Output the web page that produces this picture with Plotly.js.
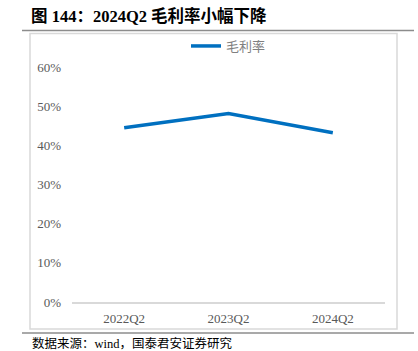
<!DOCTYPE html>
<html>
<head>
<meta charset="utf-8">
<script src="https://cdn.plot.ly/plotly-3.0.1.min.js"></script>
<style>html,body{margin:0;padding:0;background:#fff;}#chart{width:418px;height:351px;}</style>
</head>
<body>
<div id="chart"></div>
<script>
const categories = ["2022Q2", "2023Q2", "2024Q2"];
const grossMargin = [0.445, 0.481, 0.432];
const seriesName = "毛利率";
const yTickVals = [0, 0.1, 0.2, 0.3, 0.4, 0.5, 0.6];
const yTickText = ["0%", "10%", "20%", "30%", "40%", "50%", "60%"];
const chartTitle = "图 144：2024Q2 毛利率小幅下降";
const sourceText = "数据来源：wind，国泰君安证券研究";

const W = 418, H = 351;
const M = {l: 72, r: 33, t: 67, b: 49};
const PW = W - M.l - M.r, PH = H - M.t - M.b;
const px = x => (x - M.l) / PW;
const py = y => (H - M.b - y) / PH;

const serif = "'Times New Roman', 'Liberation Serif', 'Noto Sans CJK SC', serif";

const trace = {
  x: categories,
  y: grossMargin,
  name: seriesName,
  type: "scatter",
  mode: "lines",
  line: {color: "#0070C0", width: 3.5},
  showlegend: true
};

const layout = {
  width: W, height: H,
  margin: M,
  paper_bgcolor: "#ffffff",
  plot_bgcolor: "#ffffff",
  title: {
    text: "<b>" + chartTitle + "</b>",
    x: 31 / W, xanchor: "left", xref: "container",
    y: 1 - 16 / H, yanchor: "middle", yref: "container",
    font: {family: serif, size: 16.5, color: "#000000"}
  },
  xaxis: {
    type: "category",
    range: [-0.5, 2.5],
    showgrid: false,
    zeroline: false,
    showline: true,
    linecolor: "#d9d9d9",
    linewidth: 1.5,
    ticks: "",
    ticklabelstandoff: 4,
    tickfont: {family: serif, size: 13, color: "#595959"},
    fixedrange: true
  },
  yaxis: {
    range: [0, 0.6],
    tickvals: yTickVals,
    ticktext: yTickText,
    showgrid: false,
    zeroline: false,
    showline: false,
    ticks: "",
    ticklabelstandoff: 10,
    tickfont: {family: serif, size: 13, color: "#595959"},
    fixedrange: true
  },
  legend: {
    orientation: "h",
    x: 0.5, xanchor: "center",
    y: py(46), yanchor: "middle",
    font: {family: serif, size: 13, color: "#7f7f7f"},
    bgcolor: "rgba(0,0,0,0)"
  },
  shapes: [
    {type: "line", xref: "paper", yref: "paper", x0: px(22), x1: px(414), y0: py(30.5), y1: py(30.5), line: {color: "#8c8c8c", width: 1.5}},
    {type: "rect", xref: "paper", yref: "paper", x0: px(30), x1: px(397), y0: py(33.5), y1: py(329), line: {color: "#d9d9d9", width: 1.5}},
    {type: "line", xref: "paper", yref: "paper", x0: px(22), x1: px(414), y0: py(333), y1: py(333), line: {color: "#8c8c8c", width: 1.5}}
  ],
  annotations: [
    {text: sourceText, xref: "paper", yref: "paper", x: px(30), y: py(343), xanchor: "left", yanchor: "middle", showarrow: false,
     font: {family: serif, size: 12.5, color: "#000000"}}
  ]
};

Plotly.newPlot("chart", [trace], layout, {displayModeBar: false, staticPlot: true});
</script>
</body>
</html>
